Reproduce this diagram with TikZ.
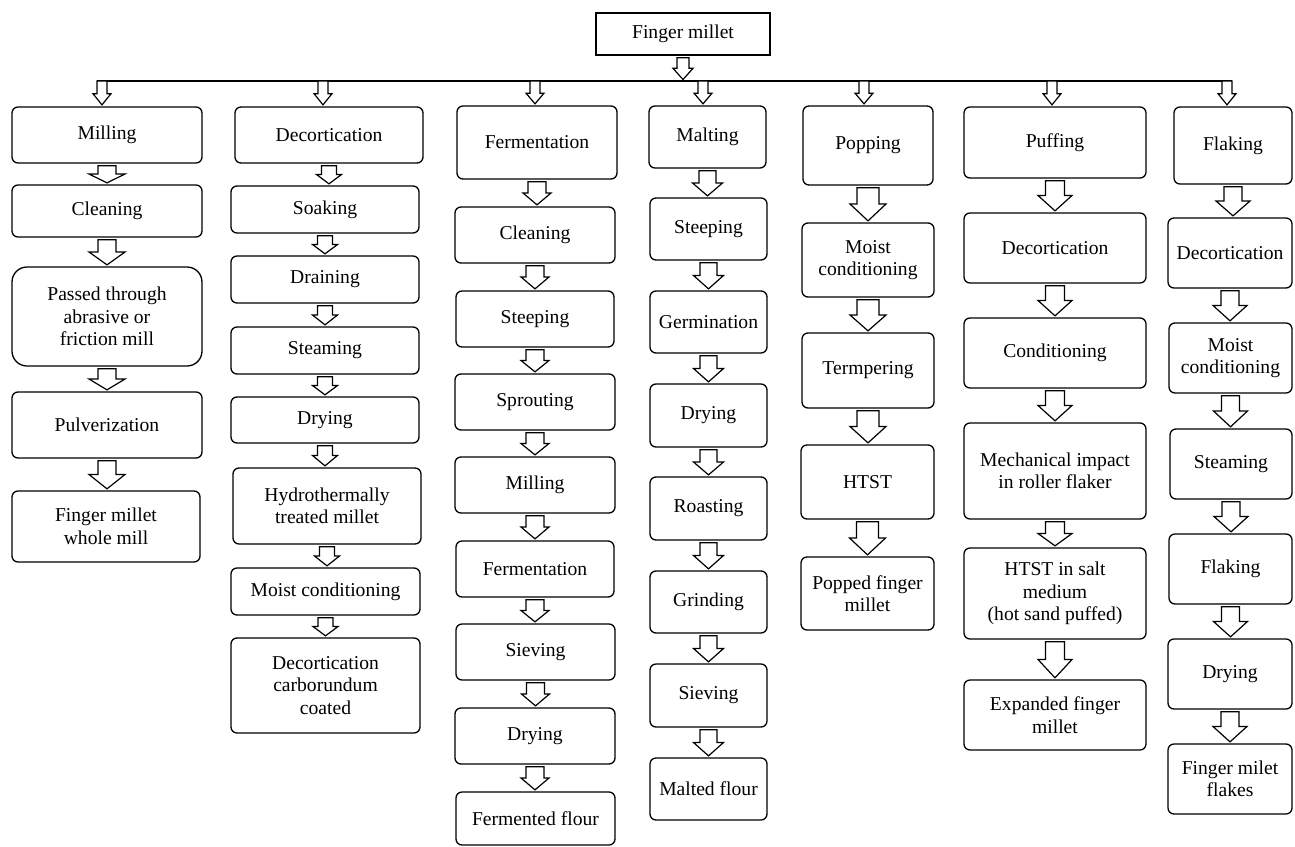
\documentclass[tikz,border=0pt]{standalone}
\usepackage{fontspec}
\setmainfont{Liberation Serif}
\usetikzlibrary{calc}

% box from its corners: [radius]{name}{x1}{y1}{x2}{y2}{text}
\newcommand{\stagenode}[7][6pt]{%
\node[stage, rounded corners=#1, minimum width={#5-#3}, minimum height={#6-#4}] (#2) at ({(#3+#5)/2},{(#4+#6)/2}) {#7};}
% hollow block arrow: [gap]{from}{to}{shaft half width}{head half width}
\newcommand{\flow}[5][2]{%
\draw[flowarrow] let \p1=#2, \p2=#3 in (\x1-#4pt,\y1-#1pt) -- (\x1+#4pt,\y1-#1pt) -- (\x1+#4pt,{(\y1+\y2)/2}) -- (\x1+#5pt,{(\y1+\y2)/2}) -- (\x1,\y2+1.5pt) -- (\x1-#5pt,{(\y1+\y2)/2}) -- (\x1-#4pt,{(\y1+\y2)/2}) -- cycle;}

\begin{document}
\begin{tikzpicture}[x=1pt,y=-1pt]
\tikzstyle{stage}=[draw, line width=1.3pt, inner sep=2pt, align=center, font=\fontsize{19.6}{22.5}\selectfont]
\tikzstyle{flowarrow}=[draw, line width=1.2pt, fill=white, line join=miter]
\useasboundingbox (0,0) rectangle (1295,846);
\stagenode[0pt]{r}{596}{13}{770}{55}{Finger millet}
\coordinate (bus) at (682,81);
\coordinate (b1) at (102,81);
\coordinate (b2) at (323,81);
\coordinate (b3) at (535,81);
\coordinate (b4) at (703,81);
\coordinate (b5) at (864,81);
\coordinate (b6) at (1052,81);
\coordinate (b7) at (1227,81);
\draw [line width=1.2pt] ([xshift=-5pt]b1) -- ([xshift=5pt]b7);
\flow{(r.south)}{(bus)}{6}{10}
% milling
\stagenode{m1}{12}{107}{202}{163}{Milling}
\stagenode{m2}{12}{185}{202}{237}{Cleaning}
\stagenode[15pt]{m3}{12}{267}{202}{366}{Passed through\\abrasive or\\friction mill}
\stagenode{m4}{12}{392}{202}{458}{Pulverization}
\stagenode{m5}{12}{491}{200}{562}{Finger millet\\whole mill}
% decortication
\stagenode{d1}{235}{107}{423}{163}{Decortication}
\stagenode{d2}{231}{186}{419}{233}{Soaking}
\stagenode{d3}{231}{256}{419}{303}{Draining}
\stagenode{d4}{231}{327}{419}{374}{Steaming}
\stagenode{d5}{231}{397}{419}{443}{Drying}
\stagenode{d6}{233}{468}{421}{544}{Hydrothermally\\treated millet}
\stagenode{d7}{231}{568}{420}{615}{Moist conditioning}
\stagenode{d8}{231}{638}{420}{733}{Decortication\\carborundum\\coated}
% fermentation
\stagenode{f1}{457}{106}{617}{179}{Fermentation}
\stagenode{f2}{455}{207}{615}{263}{Cleaning}
\stagenode{f3}{456}{291}{614}{347}{Steeping}
\stagenode{f4}{455}{374}{615}{430}{Sprouting}
\stagenode{f5}{455}{457}{615}{513}{Milling}
\stagenode{f6}{456}{541}{614}{597}{Fermentation}
\stagenode{f7}{456}{624}{615}{680}{Sieving}
\stagenode{f8}{455}{708}{615}{764}{Drying}
\stagenode{f9}{456}{792}{615}{845}{Fermented flour}
% malting
\stagenode{t1}{649}{106}{766}{168}{Malting}
\stagenode{t2}{650}{198}{767}{260}{Steeping}
\stagenode{t3}{650}{291}{767}{353}{Germination}
\stagenode{t4}{650}{384}{767}{447}{Drying}
\stagenode{t5}{650}{477}{767}{540}{Roasting}
\stagenode{t6}{650}{571}{767}{633}{Grinding}
\stagenode{t7}{650}{664}{767}{727}{Sieving}
\stagenode{t8}{650}{758}{767}{820}{Malted flour}
% popping
\stagenode{p1}{803}{106}{933}{185}{Popping}
\stagenode{p2}{802}{223}{934}{297}{Moist\\conditioning}
\stagenode{p3}{802}{333}{934}{408}{Termpering}
\stagenode{p4}{801}{445}{934}{519}{HTST}
\stagenode{p5}{801}{557}{934}{630}{Popped finger\\millet}
% puffing
\stagenode{u1}{964}{107}{1146}{178}{Puffing}
\stagenode{u2}{964}{213}{1146}{283}{Decortication}
\stagenode{u3}{964}{318}{1146}{388}{Conditioning}
\stagenode{u4}{964}{423}{1146}{519}{Mechanical impact\\in roller flaker}
\stagenode{u5}{964}{548}{1146}{639}{HTST in salt\\medium\\(hot sand puffed)}
\stagenode{u6}{964}{680}{1146}{750}{Expanded finger\\millet}
% flaking
\stagenode{k1}{1174}{107}{1292}{184}{Flaking}
\stagenode{k2}{1168}{218}{1292}{288}{Decortication}
\stagenode{k3}{1169}{323}{1292}{393}{Moist\\conditioning}
\stagenode{k4}{1170}{429}{1292}{499}{Steaming}
\stagenode{k5}{1169}{534}{1292}{604}{Flaking}
\stagenode{k6}{1168}{639}{1292}{709}{Drying}
\stagenode{k7}{1168}{744}{1292}{814}{Finger milet\\flakes}
% arrows from the bus
\flow[0]{(b1)}{(m1.north)}{5}{9}
\flow[0]{(b2)}{(d1.north)}{5}{9}
\flow[0]{(b3)}{(f1.north)}{5}{9}
\flow[0]{(b4)}{(t1.north)}{5}{9}
\flow[0]{(b5)}{(p1.north)}{5}{9}
\flow[0]{(b6)}{(u1.north)}{5}{9}
\flow[0]{(b7)}{(k1.north)}{5}{9}
% arrows down the columns
\flow{(m1.south)}{(m2.north)}{9}{18}
\flow{(m2.south)}{(m3.north)}{9}{18}
\flow{(m3.south)}{(m4.north)}{9}{18}
\flow{(m4.south)}{(m5.north)}{9}{18}
\flow{(d1.south)}{(d2.north)}{7.5}{12.5}
\flow{(d2.south)}{(d3.north)}{7.5}{12.5}
\flow{(d3.south)}{(d4.north)}{7.5}{12.5}
\flow{(d4.south)}{(d5.north)}{7.5}{12.5}
\flow{(d5.south)}{(d6.north)}{7.5}{12.5}
\flow{(d6.south)}{(d7.north)}{7.5}{12.5}
\flow{(d7.south)}{(d8.north)}{7.5}{12.5}
\flow{(f1.south)}{(f2.north)}{9}{14}
\flow{(f2.south)}{(f3.north)}{9}{14}
\flow{(f3.south)}{(f4.north)}{9}{14}
\flow{(f4.south)}{(f5.north)}{9}{14}
\flow{(f5.south)}{(f6.north)}{9}{14}
\flow{(f6.south)}{(f7.north)}{9}{14}
\flow{(f7.south)}{(f8.north)}{9}{14}
\flow{(f8.south)}{(f9.north)}{9}{14}
\flow{(t1.south)}{(t2.north)}{8.5}{15}
\flow{(t2.south)}{(t3.north)}{8.5}{15}
\flow{(t3.south)}{(t4.north)}{8.5}{15}
\flow{(t4.south)}{(t5.north)}{8.5}{15}
\flow{(t5.south)}{(t6.north)}{8.5}{15}
\flow{(t6.south)}{(t7.north)}{8.5}{15}
\flow{(t7.south)}{(t8.north)}{8.5}{15}
\flow{(p1.south)}{(p2.north)}{11}{18}
\flow{(p2.south)}{(p3.north)}{11}{18}
\flow{(p3.south)}{(p4.north)}{11}{18}
\flow{(p4.south)}{(p5.north)}{11}{18}
\flow{(u1.south)}{(u2.north)}{9.5}{17}
\flow{(u2.south)}{(u3.north)}{9.5}{17}
\flow{(u3.south)}{(u4.north)}{9.5}{17}
\flow{(u4.south)}{(u5.north)}{9.5}{17}
\flow{(u5.south)}{(u6.north)}{9.5}{17}
\flow{(k1.south)}{(k2.north)}{9}{17}
\flow{(k2.south)}{(k3.north)}{9}{17}
\flow{(k3.south)}{(k4.north)}{9}{17}
\flow{(k4.south)}{(k5.north)}{9}{17}
\flow{(k5.south)}{(k6.north)}{9}{17}
\flow{(k6.south)}{(k7.north)}{9}{17}
\end{tikzpicture}
\end{document}
